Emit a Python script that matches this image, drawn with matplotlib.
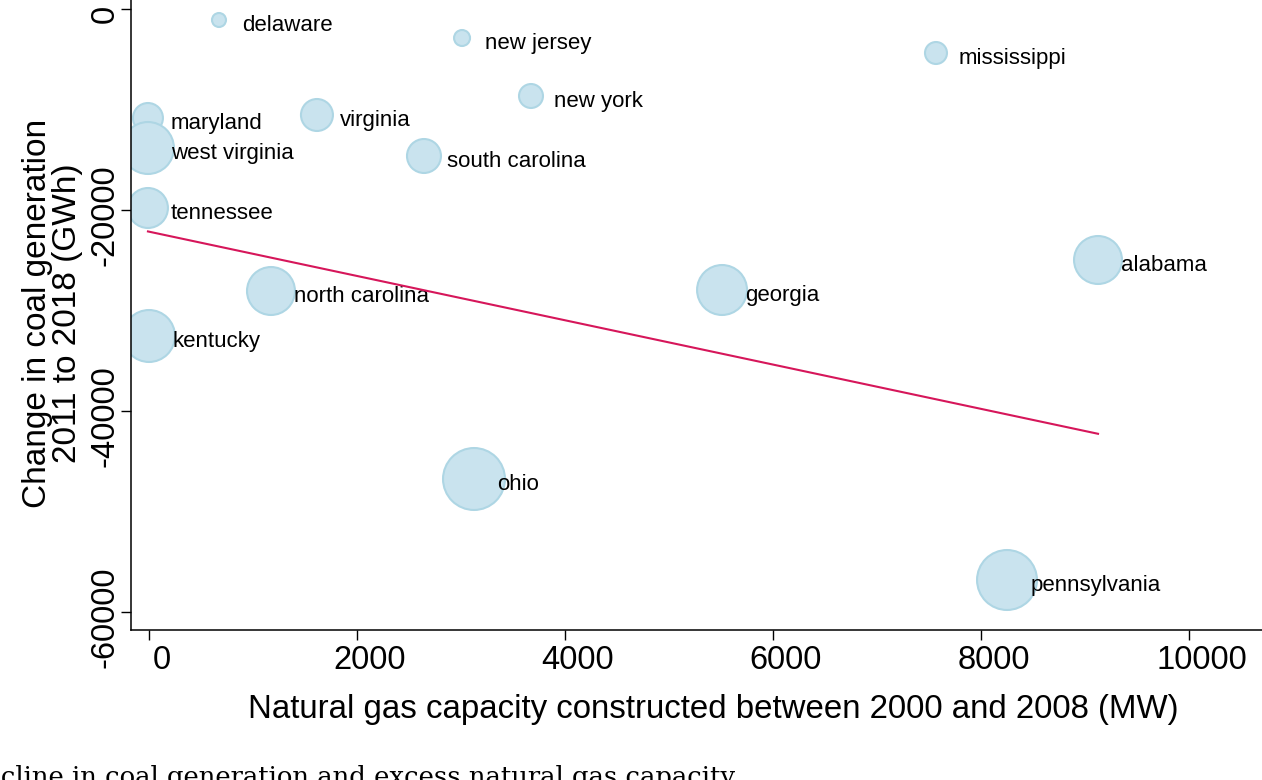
import numpy as np
import matplotlib
matplotlib.use("Agg")
import matplotlib.pyplot as plt
import matplotlib.transforms as mtransforms

# Data

states = ["delaware", "new jersey", "mississippi", "new york", "maryland",
          "virginia", "west virginia", "south carolina", "tennessee", "alabama",
          "north carolina", "georgia", "kentucky", "ohio", "pennsylvania"]
gas_mw = [673, 3010, 7567, 3673, -10, 1615, -10, 2644, -10, 9125,
          1173, 5510, 0, 3125, 8250]
coal_change = [-1095, -2886, -4378, -8657, -10846, -10547, -13831, -14627, -19801, -24975,
               -28060, -27960, -32537, -46766, -56816]
weight = [49, 64, 121, 144, 225, 256, 676, 289, 400, 576,
          576, 625, 676, 961, 900]

x = np.array(gas_mw, dtype=float)
y = np.array(coal_change, dtype=float)
w = np.array(weight, dtype=float)

# weighted linear fit (aweights)
slope, intercept = np.polyfit(x, y, 1, w=np.sqrt(w))
xfit = np.array([x.min(), x.max()])
yfit = intercept + slope * xfit

plt.rcParams["font.family"] = ["Liberation Sans", "DejaVu Sans"]

W, H = 1262, 780
fig = plt.figure(figsize=(W / 100, H / 100), dpi=100)
# plot region runs a little past the right and top edges of the picture
ax = fig.add_axes([131 / W, 1 - 630 / H, (1295 - 131) / W, 633 / H])

ax.scatter(x, y, s=w * 2.07, facecolor="#c9e3ee", edgecolor="#aed6e4",
           linewidth=1.5, zorder=2)
for name, xi, yi in zip(states, x, y):
    ax.annotate(name, (xi, yi), xytext=(16.6, -3.8), textcoords="offset points",
                ha="left", va="center", fontsize=16, zorder=3)

ax.plot(xfit, yfit, color="#d6165a", linewidth=1.5, zorder=4)

ax.set_xlim(-173, 11019)
ax.set_ylim(-61791, 1194)
ax.set_xticks([0, 2000, 4000, 6000, 8000, 10000])
ax.set_yticks([0, -20000, -40000, -60000])
ax.set_yticklabels(["0", "-20000", "-40000", "-60000"], rotation=90, va="center")
ax.tick_params(axis="both", length=7, width=1, labelsize=23.5, direction="out")
ax.tick_params(axis="x", pad=4)
ax.tick_params(axis="y", pad=0.5)

# tick labels sit a bit off their ticks in the reference
xshift = mtransforms.ScaledTranslation(13 / 100, 0, fig.dpi_scale_trans)
yshift = mtransforms.ScaledTranslation(0, -5 / 100, fig.dpi_scale_trans)
for lab in ax.get_xticklabels():
    lab.set_transform(lab.get_transform() + xshift)
for lab in ax.get_yticklabels():
    lab.set_transform(lab.get_transform() + yshift)

for side in ["top", "right"]:
    ax.spines[side].set_visible(False)
for side in ["left", "bottom"]:
    ax.spines[side].set_linewidth(1.1)

ax.set_xlabel("Natural gas capacity constructed between 2000 and 2008 (MW)", fontsize=23.8, labelpad=12.5)
ax.set_ylabel("Change in coal generation\n2011 to 2018 (GWh)", fontsize=24, labelpad=5,
              linespacing=0.95)

fig.text(735 / W, -5 / H, "Decline in coal generation and excess natural gas capacity",
         ha="right", va="baseline", fontsize=18.6, family="DejaVu Serif")

fig.savefig("out.png", dpi=100)
